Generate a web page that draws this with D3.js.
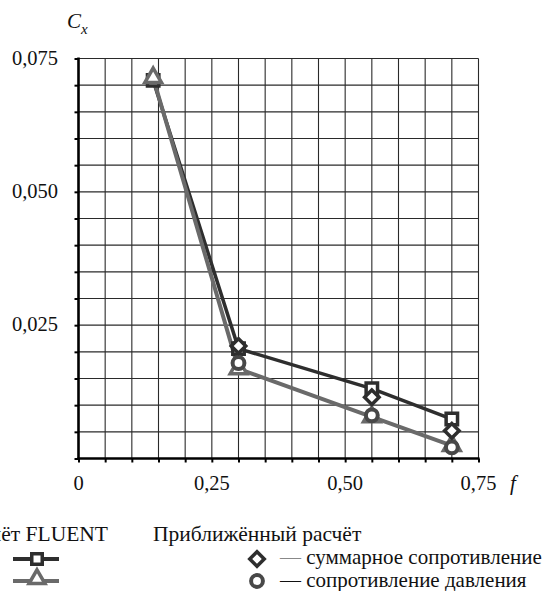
<!DOCTYPE html>
<html><head><meta charset="utf-8">
<script src="https://cdn.jsdelivr.net/npm/d3@7"></script>
<style>
html,body{margin:0;padding:0;background:#fff;}
svg text{font-family:"Liberation Serif","Times New Roman","DejaVu Serif",serif !important;fill:#111;}
</style></head>
<body>
<svg id="c" width="557" height="591"></svg>
<script>
// ---- data ----
const fFluent = [0.14, 0.30, 0.55, 0.70];
const fluentTotal = [0.0709, 0.0206, 0.0131, 0.0074];
const fluentPressure = [0.0714, 0.0168, 0.0078, 0.0024];
const fApprox = [0.30, 0.55, 0.70];
const approxTotal = [0.0211, 0.0115, 0.0052];
const approxPressure = [0.0179, 0.0081, 0.0021];
const xTickLabels = ["0", "0,25", "0,50", "0,75"];
const xTickValues = [0, 0.25, 0.50, 0.75];
const yTickLabels = ["0,025", "0,050", "0,075"];
const yTickValues = [0.025, 0.050, 0.075];
const legendFluentTitle = "Расчёт FLUENT";
const legendApproxTitle = "Приближённый расчёт";
const legendApproxItems = ["суммарное сопротивление", "сопротивление давления"];

const FONT = "Liberation Serif";
const svg = d3.select("#c");
const x = d3.scaleLinear().domain([0, 0.75]).range([78.5, 478.5]);
const y = d3.scaleLinear().domain([0, 0.075]).range([458.5, 58.5]);

const dark = "#2e2e2e", gray = "#6a6a6a", circ = "#484848";

// grid
const gridX = d3.range(0, 0.7501, 0.05);
const gridY = d3.range(0, 0.07501, 0.005);
svg.append("g").selectAll("line").data(gridX.slice(1)).join("line")
  .attr("x1", d => x(d)).attr("x2", d => x(d)).attr("y1", y(0)).attr("y2", y(0.075))
  .attr("stroke", "#2a2a2a").attr("stroke-width", 1.1);
svg.append("g").selectAll("line").data(gridY.slice(1)).join("line")
  .attr("x1", x(0)).attr("x2", x(0.75)).attr("y1", d => y(d)).attr("y2", d => y(d))
  .attr("stroke", "#2a2a2a").attr("stroke-width", 1.1);

// axes
const xAxis = d3.axisBottom(x).tickValues(gridX).tickSize(4).tickFormat("");
const gx = svg.append("g").attr("transform", `translate(0,${y(0)})`).call(xAxis);
gx.select(".domain").attr("stroke", "#000").attr("stroke-width", 2.6).attr("d", `M${x(0)-1},0H${x(0.75)+1}`);
gx.selectAll(".tick line").attr("stroke", "#000").attr("stroke-width", 2);
const yAxis = d3.axisLeft(y).tickValues(gridY).tickSize(4).tickFormat("");
const gy = svg.append("g").attr("transform", `translate(${x(0)},0)`).call(yAxis);
gy.select(".domain").attr("stroke", "#000").attr("stroke-width", 2.6).attr("d", `M0,${y(0)+1}V${y(0.075)-1}`);
gy.selectAll(".tick line").attr("stroke", "#000").attr("stroke-width", 2);

// tick labels
svg.append("g").selectAll("text").data(xTickValues).join("text")
  .attr("font-family", FONT)
  .attr("x", d => x(d)).attr("y", 490).attr("text-anchor", "middle")
  .attr("font-size", 20.5).text((d, i) => xTickLabels[i]);
svg.append("g").selectAll("text").data(yTickValues).join("text")
  .attr("font-family", FONT)
  .attr("x", 58).attr("y", d => y(d) + 6).attr("text-anchor", "end")
  .attr("font-size", 20.5).text((d, i) => yTickLabels[i]);

// axis titles
const cx = svg.append("text").attr("font-family", FONT).attr("x", 67).attr("y", 28).attr("font-size", 21).attr("font-style", "italic");
cx.append("tspan").text("C");
cx.append("tspan").attr("font-size", 15).attr("dy", 6).text("x");
svg.append("text").attr("font-family", FONT).attr("x", 510).attr("y", 490).attr("font-size", 21).attr("font-style", "italic").text("f");

// symbols
const symSquare = d3.symbol().type(d3.symbolSquare).size(130);
const symTri = d3.symbol().type(d3.symbolTriangle).size(120);
const symDiamond = d3.symbol().type(d3.symbolSquare).size(105);
const symCircle = d3.symbol().type(d3.symbolCircle).size(110);

function drawSeries(fs, vals, color, lw) {
  const line = d3.line().x((d, i) => x(fs[i])).y(d => y(d));
  svg.append("path").datum(vals).attr("d", line).attr("fill", "none")
    .attr("stroke", color).attr("stroke-width", lw).attr("stroke-linejoin", "round");
}
function drawMarkers(fs, vals, sym, color, rot, sw) {
  svg.append("g").selectAll("path").data(vals).join("path")
    .attr("d", sym)
    .attr("transform", (d, i) => `translate(${x(fs[i])},${y(d)}) rotate(${rot})`)
    .attr("fill", "#fff").attr("stroke", color).attr("stroke-width", sw);
}

drawSeries(fFluent, fluentTotal, dark, 3.5);
drawSeries(fFluent, fluentPressure, gray, 4);
drawMarkers(fFluent, fluentTotal, symSquare, dark, 0, 3.5);
drawMarkers(fFluent, fluentPressure, symTri, gray, 0, 3.5);
drawMarkers(fApprox, approxPressure, symCircle, circ, 0, 4);
drawMarkers(fApprox, approxTotal, symDiamond, dark, 45, 3.5);

// legend
const LF = 21.5, LI = 21;
svg.append("text").attr("font-family", FONT).attr("x", 108).attr("y", 541).attr("text-anchor", "end")
  .attr("font-size", LF).text(legendFluentTitle);
svg.append("text").attr("font-family", FONT).attr("x", 153).attr("y", 541)
  .attr("font-size", LF).text(legendApproxTitle);

svg.append("line").attr("x1", 13).attr("x2", 59).attr("y1", 559).attr("y2", 559)
  .attr("stroke", dark).attr("stroke-width", 4);
svg.append("path").attr("d", d3.symbol().type(d3.symbolSquare).size(110)())
  .attr("transform", "translate(37,559)").attr("fill", "#fff").attr("stroke", dark).attr("stroke-width", 3.5);
svg.append("line").attr("x1", 13).attr("x2", 59).attr("y1", 581).attr("y2", 581)
  .attr("stroke", gray).attr("stroke-width", 4);
svg.append("path").attr("d", d3.symbol().type(d3.symbolTriangle).size(110)())
  .attr("transform", "translate(37,579)").attr("fill", "#fff").attr("stroke", gray).attr("stroke-width", 3.5);

svg.append("path").attr("d", symDiamond()).attr("transform", "translate(257,559) rotate(45)")
  .attr("fill", "#fff").attr("stroke", dark).attr("stroke-width", 3.5);
svg.append("path").attr("d", symCircle()).attr("transform", "translate(257,581)")
  .attr("fill", "#fff").attr("stroke", circ).attr("stroke-width", 4);

const t1 = svg.append("text").attr("font-family", FONT).attr("x", 280).attr("y", 564).attr("font-size", LI);
t1.append("tspan").attr("fill", "#888").text("—");
t1.append("tspan").text(" " + legendApproxItems[0]);
const t2 = svg.append("text").attr("font-family", FONT).attr("x", 280).attr("y", 587).attr("font-size", LI);
t2.append("tspan").text("— " + legendApproxItems[1]);
</script>
</body></html>
